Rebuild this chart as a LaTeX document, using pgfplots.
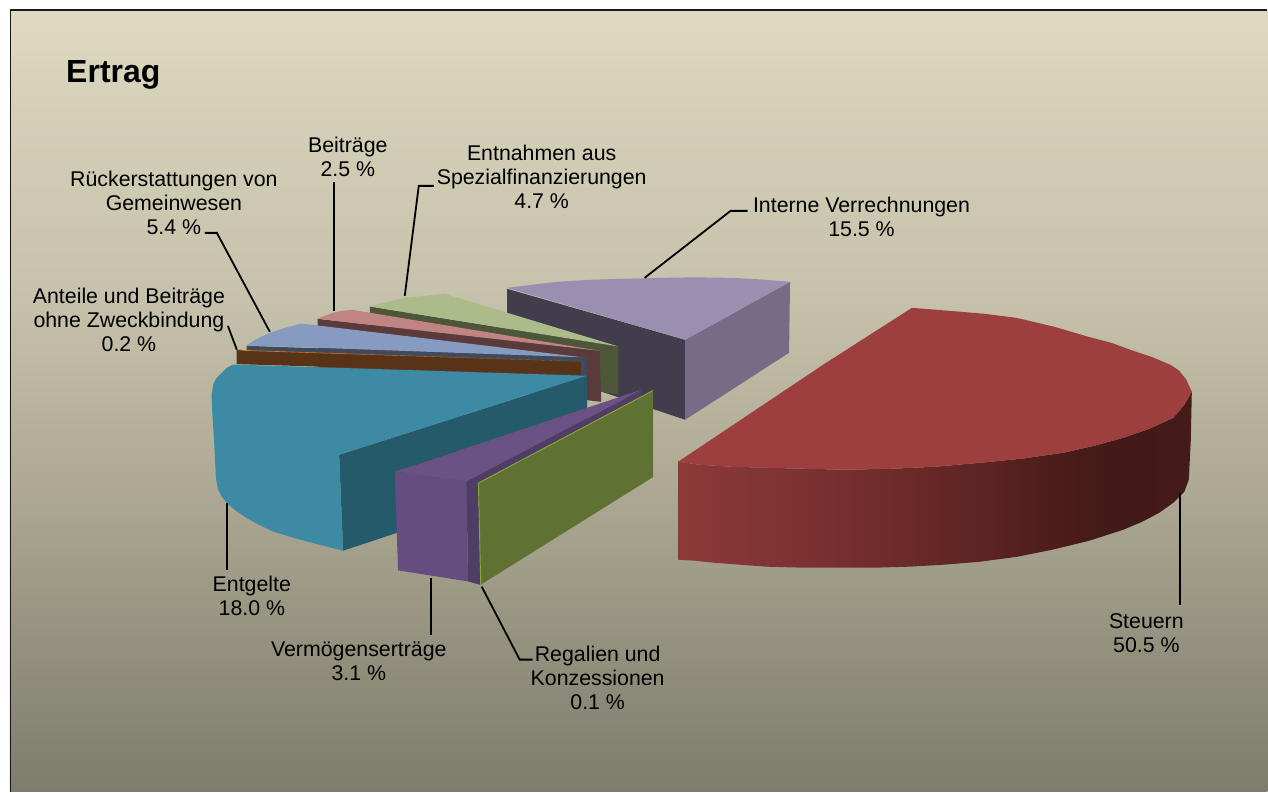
\documentclass[border=0pt]{standalone}
\usepackage{pgfplots}
\pgfplotsset{compat=1.18}
\usepackage{fontspec}
\setmainfont{Liberation Sans}

% Panel background, from the upper tone at the top to the dark tone at the bottom
\definecolor{bgA}{HTML}{DFDAC2}
\definecolor{bgB}{HTML}{D5D0B8}
\definecolor{bgC}{HTML}{C6C1AA}
\definecolor{bgD}{HTML}{ABA792}
\definecolor{bgE}{HTML}{93907D}
\definecolor{bgF}{HTML}{7E7C6C}
\pgfdeclareverticalshading{panelshade}{100bp}{
  color(0bp)=(bgF); color(25bp)=(bgF); color(34bp)=(bgE); color(43.7bp)=(bgD);
  color(56.5bp)=(bgC); color(69.2bp)=(bgB); color(75bp)=(bgA); color(100bp)=(bgA)}

% Outer wall of the largest slice, lit on the left and falling off to the right
\definecolor{rwA}{HTML}{8C3A38}
\definecolor{rwB}{HTML}{7C3231}
\definecolor{rwC}{HTML}{6B2B2A}
\definecolor{rwD}{HTML}{5A2221}
\definecolor{rwE}{HTML}{4A1C1A}
\definecolor{rwF}{HTML}{421A17}
\definecolor{rwG}{HTML}{451B18}
\pgfdeclarehorizontalshading{redwall}{100bp}{
  color(0bp)=(rwA); color(25bp)=(rwA); color(36.9bp)=(rwB); color(46.6bp)=(rwC);
  color(56.3bp)=(rwD); color(62.2bp)=(rwE); color(68bp)=(rwF); color(75bp)=(rwG); color(100bp)=(rwG)}

\definecolor{redtop}{HTML}{9C3F3E}
\definecolor{lavtop}{HTML}{9A8FB0}
\definecolor{lavin}{HTML}{423D4C}
\definecolor{lavout}{HTML}{776C86}
\definecolor{grntop}{HTML}{ABBC8A}
\definecolor{grnwall}{HTML}{4E563A}
\definecolor{pnktop}{HTML}{C08583}
\definecolor{pnkwall}{HTML}{5A3A3B}
\definecolor{blutop}{HTML}{859BC0}
\definecolor{bluwall}{HTML}{3E4A5F}
\definecolor{orgtop}{HTML}{D07A25}
\definecolor{orgwall}{HTML}{583318}
\definecolor{teal1}{HTML}{3C8AA4}
\definecolor{teal2}{HTML}{255A6A}
\definecolor{pur1}{HTML}{6B5285}
\definecolor{pur2}{HTML}{654D80}
\definecolor{pur3}{HTML}{4F3D66}
\definecolor{oliv}{HTML}{5F7133}
\definecolor{olivedge}{HTML}{8AA53C}

\tikzset{
  lab/.style={font=\fontsize{16pt}{18pt}\selectfont, align=center, inner sep=0pt, anchor=center, text=black},
  leader/.style={draw=black, line width=1.35pt, no markers}
}
\pgfplotsset{face/.style={draw=none, fill=#1, no markers}}

\begin{document}
\begin{tikzpicture}
\begin{axis}[
  scale only axis, width=951pt, height=594pt,
  xmin=0, xmax=1268, ymin=0, ymax=792, y dir=reverse,
  hide axis, clip=false
]
\fill[white] (axis cs:0,0) rectangle (axis cs:1268,792);
\path[shading=panelshade] (axis cs:10,10) rectangle (axis cs:1268,792);
\draw[draw=black!90, line width=1.1pt] (axis cs:10.5,792) -- (axis cs:10.5,10) -- (axis cs:1268,10);

% Interne Verrechnungen 15.5 %
\addplot[face=lavin] coordinates {(507.5,289) (685.5,340) (685.5,420) (507.5,360)} --cycle;
\addplot[face=lavout] coordinates {(685.5,340) (790.5,282) (789.5,353) (685.5,420)} --cycle;
\addplot[face=lavtop] coordinates {(507.5,288) (532,285) (557,282) (590,280) (620,279) (660,278) (695,277.5) (731,278) (760,279.5) (790.5,282) (685.5,340)} --cycle;

% Entnahmen aus Spezialfinanzierungen 4.7 %
\addplot[face=grnwall] coordinates {(370,306.7) (618.8,346.7) (618.8,395) (370,350)} --cycle;
\addplot[face=grntop] coordinates {(370,306.7) (388,302) (405,298) (425,296) (445,294) (618.8,346.7)} --cycle;

% Beiträge 2.5 %
\addplot[face=pnkwall] coordinates {(317.7,319) (600,351) (601.5,402) (317.7,370)} --cycle;
\addplot[face=pnktop] coordinates {(317.7,319) (325,316) (333,313) (342,311) (352.3,310) (600,351)} --cycle;

% Rückerstattungen von Gemeinwesen 5.4 %
\addplot[face=bluwall] coordinates {(246.7,346) (587,358) (587,376) (246.7,352)} --cycle;
\addplot[face=blutop] coordinates {(246.7,345.5) (257,339) (270,333) (285,328) (301.7,323.7) (583,357.5)} --cycle;

% Anteile und Beiträge ohne Zweckbindung 0.2 %
\addplot[face=orgwall] coordinates {(236.7,350) (581.5,361.7) (581.5,375) (236.7,364.3)} --cycle;
\addplot[face=orgtop] coordinates {(236.7,350) (245,351) (581.5,361.7)} --cycle;

% Entgelte 18.0 %
\addplot[face=teal2] coordinates {(587.2,376) (339.3,455) (343.3,551) (587.8,470)} --cycle;
\addplot[face=teal1] coordinates {(233.3,364.7) (587.2,376) (339.3,455) (343.3,551) (306.7,541.7) (290,537) (273,531.7)
  (259,525) (246.7,518.3) (236,511) (226.7,503.3) (222,497) (218.3,490) (217,484) (216,476.7) (215,457) (214,436.7)
  (212.5,415) (211.7,395) (213.3,385) (216,379) (221.7,373.3) (227,368)} --cycle;

% Vermögenserträge 3.1 %
\addplot[face=pur3] coordinates {(466.7,481.7) (641.7,390) (641.7,396) (480,585) (468.3,581.7)} --cycle;
\addplot[face=pur2] coordinates {(395,471.7) (466.7,481.7) (468.3,581.7) (398.3,570.7)} --cycle;
\addplot[face=pur1] coordinates {(395,471.7) (411.7,466.7) (641.7,390) (466.7,481.7)} --cycle;

% Regalien und Konzessionen 0.1 %
\addplot[face=oliv] coordinates {(478.7,483.3) (653.5,390.7) (653.5,477.3) (481,585)} --cycle;
\addplot[draw=olivedge, line width=0.7pt, no markers] coordinates {(481,585) (478.7,483.3) (653.5,390.7)};

% Steuern 50.5 %
\addplot[draw=none, shading=redwall, no markers] coordinates {(678.5,462) (700,465) (731,467) (767,468) (803,469) (847,470)
  (892,469) (936,467) (981,463) (1022,459) (1064,453) (1095,446) (1124,438) (1150,429) (1174,418) (1185,405) (1192.5,392)
  (1191.5,440) (1189.5,480) (1185,492) (1174,503) (1160,513) (1143,522) (1124,530) (1090,541) (1053,550) (1018,557) (981,562)
  (945,565) (910,567) (875,568) (839,568) (803,568) (767,567) (740,565) (714,563) (695,561) (678.5,560)} --cycle;
\addplot[face=redtop] coordinates {(678.5,462) (825,364) (912.5,308) (950,311) (985,314) (1017,318) (1055,327) (1089,337)
  (1112,343) (1131,350) (1152,357) (1171,365) (1180,371) (1187,380) (1192.5,392) (1185,405) (1174,418) (1150,429) (1124,438)
  (1095,446) (1064,453) (1022,459) (981,463) (936,467) (892,469) (847,470) (803,469) (767,468) (731,467) (700,465)} --cycle;

% Leader lines
\addplot[leader] coordinates {(1181,493) (1181,605)};
\addplot[leader] coordinates {(645,278) (731,211) (748,211)};
\addplot[leader] coordinates {(405,296) (419,186) (434,186)};
\addplot[leader] coordinates {(334,311) (334,182)};
\addplot[leader] coordinates {(270,332) (217,233) (205,233)};
\addplot[leader] coordinates {(237,350) (228,326)};
\addplot[leader] coordinates {(227,503) (227,570)};
\addplot[leader] coordinates {(431,578) (431,635)};
\addplot[leader] coordinates {(482,587) (520,660) (533,660)};

% Title and slice labels
\node[font=\fontsize{24pt}{28pt}\selectfont\bfseries, anchor=base west, inner sep=0pt] at (axis cs:66,83) {Ertrag};
\node[lab] at (axis cs:542,177) {Entnahmen aus\\Spezialfinanzierungen\\4.7 \%};
\node[lab] at (axis cs:348,156.5) {Beiträge\\2.5 \%};
\node[lab] at (axis cs:174,203) {Rückerstattungen von\\Gemeinwesen\\5.4 \%};
\node[lab] at (axis cs:862,217) {Interne Verrechnungen\\15.5 \%};
\node[lab] at (axis cs:129,320) {Anteile und Beiträge\\ohne Zweckbindung\\0.2 \%};
\node[lab] at (axis cs:252,596) {Entgelte\\18.0 \%};
\node[lab] at (axis cs:1147,634) {Steuern\\50.5 \%};
\node[lab] at (axis cs:359,662) {Vermögenserträge\\3.1 \%};
\node[lab] at (axis cs:598,678) {Regalien und\\Konzessionen\\0.1 \%};
\end{axis}
\end{tikzpicture}
\end{document}
